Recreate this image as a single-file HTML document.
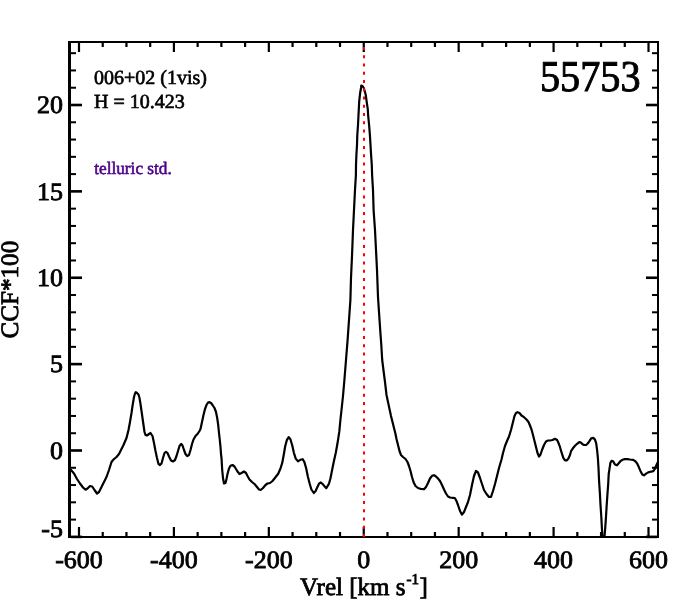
<!DOCTYPE html><html><head><meta charset="utf-8"><style>html,body{margin:0;padding:0;background:#fff;width:675px;height:600px;overflow:hidden}svg{display:block}text{font-family:"Liberation Serif",serif;text-rendering:geometricPrecision}</style></head><body><svg style="will-change:transform" width="675" height="600" viewBox="0 0 675 600"><rect width="675" height="600" fill="#fff"/><defs><clipPath id="c"><rect x="69" y="42" width="589" height="495"/></clipPath></defs><path d="M69.0 468.5 L71.0 470.0 L74.0 473.5 L77.0 479.0 L80.0 483.5 L83.0 487.5 L85.5 489.7 L87.5 488.5 L90.0 486.0 L92.2 486.5 L94.5 490.0 L97.0 493.5 L99.0 492.0 L101.5 487.0 L104.0 482.0 L106.5 477.0 L109.0 470.0 L111.5 462.0 L113.5 459.5 L116.5 457.0 L119.0 454.0 L121.0 450.0 L123.5 445.0 L126.5 438.0 L128.5 430.0 L130.0 422.0 L131.5 413.0 L132.5 406.0 L134.0 397.0 L135.0 393.5 L135.8 392.2 L137.0 393.0 L138.5 394.5 L139.5 398.0 L140.5 404.0 L141.5 411.0 L142.5 418.0 L143.5 425.0 L144.5 432.0 L145.5 435.0 L147.0 435.5 L149.0 434.0 L150.5 433.0 L152.5 436.0 L154.0 443.0 L155.5 451.0 L157.0 458.0 L158.5 464.0 L160.0 465.0 L161.5 463.5 L163.0 458.0 L164.5 453.0 L166.0 451.8 L167.5 453.0 L169.0 456.5 L171.0 460.5 L173.0 461.5 L175.0 460.0 L176.5 456.0 L178.0 451.0 L179.5 446.0 L181.2 443.8 L182.5 445.5 L184.0 450.0 L185.5 454.0 L187.2 456.2 L189.0 455.0 L190.5 450.0 L192.0 444.0 L193.5 439.5 L195.5 436.0 L197.5 434.0 L199.5 431.0 L200.5 429.0 L202.0 422.0 L203.5 415.0 L205.0 409.0 L206.5 405.0 L208.0 402.5 L209.5 402.2 L211.0 403.0 L212.5 405.0 L214.5 408.0 L216.0 412.0 L217.2 418.0 L218.2 425.0 L219.0 433.0 L219.8 440.0 L220.5 447.0 L221.0 454.0 L221.5 458.0 L222.2 470.0 L223.0 478.0 L224.0 483.5 L225.5 483.0 L226.5 479.0 L227.5 474.0 L229.0 468.5 L230.5 465.8 L232.5 465.0 L234.5 466.5 L236.0 469.0 L237.5 471.5 L239.5 474.0 L241.5 473.0 L244.0 471.5 L246.0 473.0 L247.5 476.0 L249.5 479.5 L252.0 482.0 L254.5 484.0 L257.0 487.0 L259.0 489.5 L261.0 489.8 L263.0 488.0 L265.5 485.0 L267.5 483.5 L270.0 483.0 L272.5 481.0 L274.5 478.5 L278.2 473.8 L280.5 468.5 L282.3 462.7 L283.8 454.5 L285.2 446.3 L286.9 439.9 L288.7 437.2 L290.4 439.3 L292.2 445.2 L293.9 452.8 L295.7 458.6 L298.0 461.3 L300.3 459.8 L302.7 459.2 L304.4 462.1 L306.2 468.5 L307.9 476.7 L309.7 483.7 L311.4 489.5 L313.8 493.0 L315.5 491.3 L317.3 487.2 L319.0 483.7 L320.8 482.5 L322.5 483.9 L324.5 486.3 L326.3 488.2 L328.8 484.2 L330.5 478.3 L332.3 469.0 L334.0 460.8 L335.8 452.7 L337.5 443.3 L339.3 431.7 L340.4 420.0 L341.5 410.0 L343.0 396.0 L344.4 380.0 L346.0 360.0 L347.6 340.0 L349.0 320.0 L350.4 300.0 L351.0 278.0 L352.0 256.0 L353.0 230.0 L354.0 210.0 L355.0 190.0 L355.9 175.0 L356.0 165.0 L356.4 155.0 L357.0 145.0 L357.3 135.0 L358.0 125.0 L358.5 115.0 L359.2 101.3 L360.1 93.3 L361.0 88.0 L361.3 85.5 L362.5 86.0 L363.8 88.0 L364.8 91.3 L365.8 95.3 L366.8 102.7 L367.8 109.3 L368.1 115.0 L369.1 125.0 L369.9 135.0 L370.5 145.0 L371.1 155.0 L371.8 165.0 L372.1 175.0 L373.0 190.0 L373.6 210.0 L375.0 230.0 L376.0 250.0 L377.0 270.0 L378.0 297.0 L379.2 315.0 L380.2 330.0 L381.3 345.0 L382.2 360.0 L383.7 372.0 L385.0 382.0 L386.5 395.0 L388.0 402.0 L389.5 409.0 L391.0 416.0 L392.5 422.0 L394.0 428.0 L395.5 434.0 L396.5 439.0 L398.0 445.0 L399.5 451.0 L401.0 455.0 L403.0 457.0 L405.5 459.0 L407.5 462.0 L409.0 466.0 L410.5 471.0 L412.0 477.0 L413.5 482.0 L415.5 486.0 L418.0 488.0 L421.0 489.0 L424.0 489.2 L426.0 487.0 L428.0 483.0 L430.0 478.5 L432.0 475.8 L434.0 475.2 L436.0 476.5 L438.0 478.5 L440.0 481.0 L442.0 485.0 L444.0 489.5 L446.0 493.5 L448.0 496.5 L450.0 497.5 L453.0 497.8 L454.8 498.0 L456.5 501.0 L458.0 505.0 L460.0 511.0 L462.0 514.6 L464.0 512.0 L466.0 507.0 L468.0 502.0 L470.0 495.0 L472.0 485.0 L474.0 476.0 L476.0 471.0 L478.0 472.5 L480.0 478.0 L482.0 484.0 L484.0 490.0 L486.5 494.0 L489.0 497.0 L491.0 496.8 L493.0 491.0 L495.0 484.0 L497.0 476.0 L499.0 468.0 L501.5 459.5 L503.0 453.0 L505.0 446.0 L507.0 441.0 L509.0 436.5 L511.0 430.0 L513.0 422.0 L514.5 416.0 L516.0 413.0 L517.5 412.2 L519.5 413.0 L521.5 415.5 L524.0 417.2 L526.5 419.5 L528.5 422.0 L530.0 425.5 L531.5 429.5 L533.0 435.0 L534.5 441.0 L536.0 447.0 L537.5 453.0 L539.0 456.5 L540.5 454.5 L542.0 450.0 L544.0 445.0 L546.0 441.5 L548.0 440.5 L550.0 440.5 L552.5 440.0 L555.0 438.8 L557.1 440.0 L558.3 442.5 L559.6 445.8 L560.8 450.0 L562.1 454.2 L563.3 457.9 L565.0 460.4 L566.7 460.4 L568.3 458.8 L570.0 455.0 L571.2 450.8 L572.9 448.3 L575.0 445.8 L577.1 443.8 L579.2 442.1 L580.8 442.5 L582.5 444.2 L584.2 445.0 L586.2 445.0 L587.9 443.3 L589.6 440.8 L591.2 438.3 L593.3 437.9 L595.0 439.6 L596.2 443.3 L597.1 450.0 L597.9 458.3 L598.5 468.0 L599.1 481.7 L599.9 493.3 L600.5 505.0 L601.3 516.7 L601.9 528.3 L602.3 535.3 L603.4 552.0 L604.6 535.3 L605.2 528.3 L606.0 516.7 L606.7 505.0 L607.5 493.3 L608.2 484.0 L608.7 474.0 L609.6 468.2 L610.4 462.8 L611.6 460.8 L613.3 461.6 L615.0 464.5 L617.0 465.3 L618.7 463.3 L620.4 461.2 L622.4 459.8 L624.9 459.1 L627.4 459.1 L629.9 459.5 L633.2 459.9 L635.3 461.2 L637.0 463.3 L638.6 466.6 L640.3 470.7 L642.3 474.5 L644.0 475.3 L646.1 473.6 L648.2 472.4 L650.6 471.7 L652.7 471.4 L654.0 470.3 L655.2 468.2 L656.5 464.9 L657.3 463.3 L659.0 460.0" fill="none" stroke="#000" stroke-width="2.2" stroke-linejoin="round" clip-path="url(#c)"/><g fill="#000"><rect x="68" y="41" width="3" height="497"/><rect x="68" y="41" width="591" height="2"/><rect x="657" y="41" width="2" height="497"/><rect x="68" y="536" width="591" height="2"/><rect x="71" y="535.58" width="11" height="2.6"/><rect x="646" y="535.58" width="11" height="2.6"/><rect x="71" y="518.60" width="5" height="2.0"/><rect x="652" y="518.60" width="5" height="2.0"/><rect x="71" y="501.32" width="5" height="2.0"/><rect x="652" y="501.32" width="5" height="2.0"/><rect x="71" y="484.05" width="5" height="2.0"/><rect x="652" y="484.05" width="5" height="2.0"/><rect x="71" y="466.77" width="5" height="2.0"/><rect x="652" y="466.77" width="5" height="2.0"/><rect x="71" y="449.20" width="11" height="2.6"/><rect x="646" y="449.20" width="11" height="2.6"/><rect x="71" y="432.23" width="5" height="2.0"/><rect x="652" y="432.23" width="5" height="2.0"/><rect x="71" y="414.95" width="5" height="2.0"/><rect x="652" y="414.95" width="5" height="2.0"/><rect x="71" y="397.68" width="5" height="2.0"/><rect x="652" y="397.68" width="5" height="2.0"/><rect x="71" y="380.40" width="5" height="2.0"/><rect x="652" y="380.40" width="5" height="2.0"/><rect x="71" y="362.82" width="11" height="2.6"/><rect x="646" y="362.82" width="11" height="2.6"/><rect x="71" y="345.85" width="5" height="2.0"/><rect x="652" y="345.85" width="5" height="2.0"/><rect x="71" y="328.58" width="5" height="2.0"/><rect x="652" y="328.58" width="5" height="2.0"/><rect x="71" y="311.30" width="5" height="2.0"/><rect x="652" y="311.30" width="5" height="2.0"/><rect x="71" y="294.02" width="5" height="2.0"/><rect x="652" y="294.02" width="5" height="2.0"/><rect x="71" y="276.45" width="11" height="2.6"/><rect x="646" y="276.45" width="11" height="2.6"/><rect x="71" y="259.48" width="5" height="2.0"/><rect x="652" y="259.48" width="5" height="2.0"/><rect x="71" y="242.20" width="5" height="2.0"/><rect x="652" y="242.20" width="5" height="2.0"/><rect x="71" y="224.93" width="5" height="2.0"/><rect x="652" y="224.93" width="5" height="2.0"/><rect x="71" y="207.65" width="5" height="2.0"/><rect x="652" y="207.65" width="5" height="2.0"/><rect x="71" y="190.07" width="11" height="2.6"/><rect x="646" y="190.07" width="11" height="2.6"/><rect x="71" y="173.10" width="5" height="2.0"/><rect x="652" y="173.10" width="5" height="2.0"/><rect x="71" y="155.83" width="5" height="2.0"/><rect x="652" y="155.83" width="5" height="2.0"/><rect x="71" y="138.55" width="5" height="2.0"/><rect x="652" y="138.55" width="5" height="2.0"/><rect x="71" y="121.28" width="5" height="2.0"/><rect x="652" y="121.28" width="5" height="2.0"/><rect x="71" y="103.70" width="11" height="2.6"/><rect x="646" y="103.70" width="11" height="2.6"/><rect x="71" y="86.73" width="5" height="2.0"/><rect x="652" y="86.73" width="5" height="2.0"/><rect x="71" y="69.45" width="5" height="2.0"/><rect x="652" y="69.45" width="5" height="2.0"/><rect x="71" y="52.18" width="5" height="2.0"/><rect x="652" y="52.18" width="5" height="2.0"/><rect x="77.89" y="43" width="2.2" height="9"/><rect x="77.89" y="527" width="2.2" height="9"/><rect x="101.62" y="43" width="2.2" height="4"/><rect x="101.62" y="532" width="2.2" height="4"/><rect x="125.35" y="43" width="2.2" height="4"/><rect x="125.35" y="532" width="2.2" height="4"/><rect x="149.08" y="43" width="2.2" height="4"/><rect x="149.08" y="532" width="2.2" height="4"/><rect x="172.81" y="43" width="2.2" height="9"/><rect x="172.81" y="527" width="2.2" height="9"/><rect x="196.54" y="43" width="2.2" height="4"/><rect x="196.54" y="532" width="2.2" height="4"/><rect x="220.27" y="43" width="2.2" height="4"/><rect x="220.27" y="532" width="2.2" height="4"/><rect x="244.00" y="43" width="2.2" height="4"/><rect x="244.00" y="532" width="2.2" height="4"/><rect x="267.73" y="43" width="2.2" height="9"/><rect x="267.73" y="527" width="2.2" height="9"/><rect x="291.46" y="43" width="2.2" height="4"/><rect x="291.46" y="532" width="2.2" height="4"/><rect x="315.19" y="43" width="2.2" height="4"/><rect x="315.19" y="532" width="2.2" height="4"/><rect x="338.92" y="43" width="2.2" height="4"/><rect x="338.92" y="532" width="2.2" height="4"/><rect x="362.65" y="43" width="2.2" height="9"/><rect x="362.65" y="527" width="2.2" height="9"/><rect x="386.38" y="43" width="2.2" height="4"/><rect x="386.38" y="532" width="2.2" height="4"/><rect x="410.11" y="43" width="2.2" height="4"/><rect x="410.11" y="532" width="2.2" height="4"/><rect x="433.84" y="43" width="2.2" height="4"/><rect x="433.84" y="532" width="2.2" height="4"/><rect x="457.57" y="43" width="2.2" height="9"/><rect x="457.57" y="527" width="2.2" height="9"/><rect x="481.30" y="43" width="2.2" height="4"/><rect x="481.30" y="532" width="2.2" height="4"/><rect x="505.03" y="43" width="2.2" height="4"/><rect x="505.03" y="532" width="2.2" height="4"/><rect x="528.76" y="43" width="2.2" height="4"/><rect x="528.76" y="532" width="2.2" height="4"/><rect x="552.49" y="43" width="2.2" height="9"/><rect x="552.49" y="527" width="2.2" height="9"/><rect x="576.22" y="43" width="2.2" height="4"/><rect x="576.22" y="532" width="2.2" height="4"/><rect x="599.95" y="43" width="2.2" height="4"/><rect x="599.95" y="532" width="2.2" height="4"/><rect x="623.68" y="43" width="2.2" height="4"/><rect x="623.68" y="532" width="2.2" height="4"/><rect x="647.41" y="43" width="2.2" height="9"/><rect x="647.41" y="527" width="2.2" height="9"/></g><line x1="364" y1="43" x2="364" y2="537" stroke="#f00" stroke-width="2" stroke-dasharray="3 5.254" stroke-dashoffset="-4"/><g fill="#000"><text transform="translate(63,458.7) scale(1.040,1)" text-anchor="end" font-size="25" stroke="#000" stroke-width="0.8">0</text><text transform="translate(63,372.3) scale(1.040,1)" text-anchor="end" font-size="25" stroke="#000" stroke-width="0.8">5</text><text transform="translate(63,285.9) scale(1.040,1)" text-anchor="end" font-size="25" stroke="#000" stroke-width="0.8">10</text><text transform="translate(63,199.6) scale(1.040,1)" text-anchor="end" font-size="25" stroke="#000" stroke-width="0.8">15</text><text transform="translate(63,113.2) scale(1.040,1)" text-anchor="end" font-size="25" stroke="#000" stroke-width="0.8">20</text><text transform="translate(63,537) scale(1.040,1)" text-anchor="end" font-size="25" stroke="#000" stroke-width="0.8">-5</text><text transform="translate(78.99,568) scale(1.040,1)" text-anchor="middle" font-size="25" stroke="#000" stroke-width="0.8">-600</text><text transform="translate(173.91,568) scale(1.040,1)" text-anchor="middle" font-size="25" stroke="#000" stroke-width="0.8">-400</text><text transform="translate(268.83,568) scale(1.040,1)" text-anchor="middle" font-size="25" stroke="#000" stroke-width="0.8">-200</text><text transform="translate(363.75,568) scale(1.040,1)" text-anchor="middle" font-size="25" stroke="#000" stroke-width="0.8">0</text><text transform="translate(458.67,568) scale(1.040,1)" text-anchor="middle" font-size="25" stroke="#000" stroke-width="0.8">200</text><text transform="translate(553.59,568) scale(1.040,1)" text-anchor="middle" font-size="25" stroke="#000" stroke-width="0.8">400</text><text transform="translate(648.51,568) scale(1.040,1)" text-anchor="middle" font-size="25" stroke="#000" stroke-width="0.8">600</text></g><text transform="translate(300,594.7) scale(1.000,1)" font-size="25" stroke="#000" stroke-width="0.8">Vrel [km s<tspan dx="1" dy="-11" font-size="15">-1</tspan><tspan dx="0.5" dy="11">]</tspan></text><text transform="translate(18.2,338.5) rotate(-90) scale(1.005,1)" x="0" y="0" font-size="25" stroke="#000" stroke-width="0.8">CCF*100</text><text x="94" y="83.8" font-size="20" stroke="#000" stroke-width="0.65">006+02 (1vis)</text><text x="94" y="107.9" font-size="20" stroke="#000" stroke-width="0.65">H = 10.423</text><text transform="translate(94.2,174) scale(0.98,1.0)" font-size="17.6" fill="#4c0089" stroke="#4c0089" stroke-width="0.6">telluric std.</text><text transform="translate(540,91.3) scale(1.005,1.1)" font-size="40" stroke="#000" stroke-width="0.9">55753</text></svg></body></html>
